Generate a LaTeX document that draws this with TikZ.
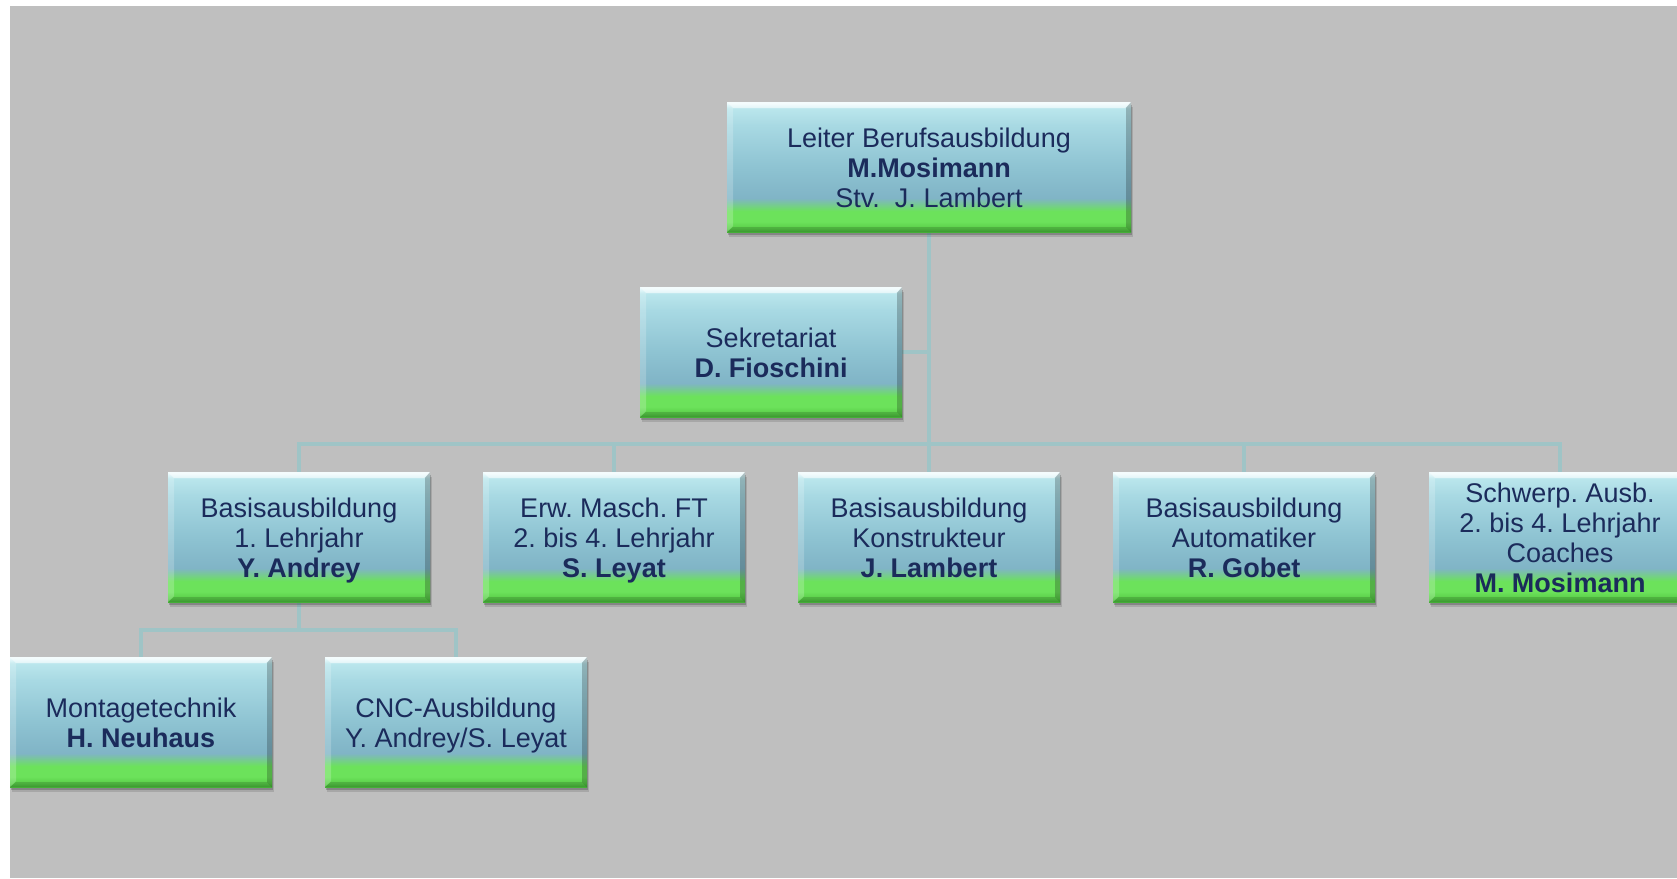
\documentclass[tikz,border=0pt]{standalone}
\usepackage{fontspec}
\setmainfont{Liberation Sans}
\usetikzlibrary{shadows,backgrounds}
\definecolor{bg}{HTML}{BFBFBF}
\definecolor{linecol}{HTML}{9FC4C6}
\definecolor{txtcol}{HTML}{1B2B5B}
\definecolor{gdark}{HTML}{46B238}
\definecolor{gmid}{HTML}{5ACF49}
\definecolor{gbright}{HTML}{6CE25B}
\definecolor{teallow}{HTML}{80B4C6}
\definecolor{tealmid}{HTML}{8EC3D2}
\definecolor{tealup}{HTML}{A8D9E3}
\definecolor{tealtop}{HTML}{BAE6EC}
\definecolor{hilite}{HTML}{E8FAFC}
\pgfdeclareverticalshading{boxshade}{100bp}{color(0bp)=(gdark); color(25bp)=(gdark); color(26.5bp)=(gmid); color(29bp)=(gbright); color(33bp)=(gbright); color(38bp)=(teallow); color(50bp)=(tealmid); color(66bp)=(tealup); color(72.5bp)=(tealtop); color(74.5bp)=(hilite); color(100bp)=(hilite)}
\newcommand\firstln[1]{\rule{0pt}{25pt}\smash{#1}}
\newcommand\lastln[1]{\smash{#1}\rule[-4pt]{0pt}{4pt}}
\frenchspacing
\begin{document}
\begin{tikzpicture}[x=1pt,y=-1pt,
  box/.style={rectangle, shading=boxshade, minimum width=262pt, minimum height=130pt,
    inner sep=0pt, align=center, text=txtcol, font=\fontsize{27}{30}\selectfont,
    drop shadow={shadow xshift=2pt, shadow yshift=-5pt, fill=black, opacity=0.12},
    drop shadow={shadow xshift=1pt, shadow yshift=-3pt, fill=black, opacity=0.2},
    path picture={
      \fill[white,opacity=0.55] (path picture bounding box.north west) -- (path picture bounding box.north east)
        -- ([xshift=-6pt,yshift=-6pt]path picture bounding box.north east) -- ([xshift=6pt,yshift=-6pt]path picture bounding box.north west) -- cycle;
      \fill[white,opacity=0.2] (path picture bounding box.north west) -- ([xshift=6pt,yshift=-6pt]path picture bounding box.north west)
        -- ([xshift=6pt,yshift=6pt]path picture bounding box.south west) -- (path picture bounding box.south west) -- cycle;
      \fill[black,opacity=0.22] (path picture bounding box.north east) -- ([xshift=-5pt,yshift=-6pt]path picture bounding box.north east)
        -- ([xshift=-5pt,yshift=5pt]path picture bounding box.south east) -- (path picture bounding box.south east) -- cycle;
      \fill[black,opacity=0.15] (path picture bounding box.south west) -- ([xshift=6pt,yshift=5pt]path picture bounding box.south west)
        -- ([xshift=-5pt,yshift=5pt]path picture bounding box.south east) -- (path picture bounding box.south east) -- cycle;
    }},
  conn/.style={draw=linecol, line width=4pt}]
\useasboundingbox (0,0) rectangle (1677,878);

\node[box, minimum width=404pt] (t) at (929,167) {\firstln{Leiter Berufsausbildung}\\\textbf{M.Mosimann}\\\lastln{Stv.\ \ J. Lambert}};
\node[box] (s) at (771,352) {\firstln{Sekretariat}\\\lastln{\textbf{D. Fioschini}}};

\node[box] (b1) at (299,537) {\firstln{Basisausbildung}\\1. Lehrjahr\\\lastln{\textbf{Y. Andrey}}};
\node[box] (b2) at (614,537) {\firstln{Erw. Masch. FT}\\2. bis 4. Lehrjahr\\\lastln{\textbf{S. Leyat}}};
\node[box] (b3) at (929,537) {\firstln{Basisausbildung}\\Konstrukteur\\\lastln{\textbf{J. Lambert}}};
\node[box] (b4) at (1244,537) {\firstln{Basisausbildung}\\Automatiker\\\lastln{\textbf{R. Gobet}}};
\node[box] (b5) at (1560,537) {\firstln{Schwerp. Ausb.}\\2. bis 4. Lehrjahr\\Coaches\\\lastln{\textbf{M. Mosimann}}};

\node[box] (c1) at (141,722) {\firstln{Montagetechnik}\\\lastln{\textbf{H. Neuhaus}}};
\node[box] (c2) at (456,722) {\firstln{CNC-Ausbildung}\\\lastln{Y. Andrey/S. Leyat}};

\coordinate (bus) at (0,444);
\coordinate (sub) at (0,630);

\begin{scope}[on background layer]
  \fill[white] (0,0) rectangle (1677,878);
  \fill[bg] (10,6) rectangle (1677,878);
  \draw[conn] (t.south) -- (b3.north);
  \draw[conn] (s.east) -- (s.east -| t.south);
  \draw[conn] (b1.north) -- (b1.north |- bus) -- (b5.north |- bus) -- (b5.north);
  \draw[conn] (b2.north) -- (b2.north |- bus);
  \draw[conn] (b4.north) -- (b4.north |- bus);
  \draw[conn] (b1.south) -- (b1.south |- sub);
  \draw[conn] (c1.north) -- (c1.north |- sub) -- (c2.north |- sub) -- (c2.north);
\end{scope}
\end{tikzpicture}
\end{document}
